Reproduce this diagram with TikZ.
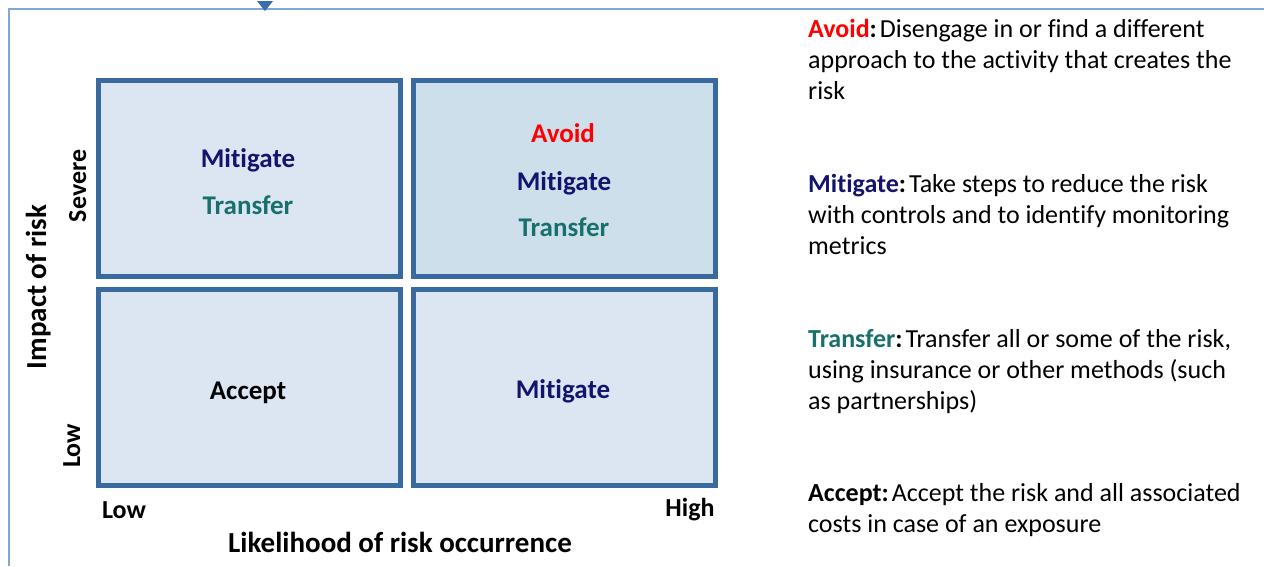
\documentclass[tikz,border=0pt]{standalone}
\usepackage{fontspec}
\setmainfont{Carlito}[Ligatures=NoCommon]

\definecolor{framelin}{HTML}{7FA7D7}
\definecolor{marker}{HTML}{3B6BA8}
\definecolor{cellline}{HTML}{386A9F}
\definecolor{cellfill}{HTML}{DCE6F2}
\definecolor{hotfill}{HTML}{CEDFEC}
\definecolor{mitnavy}{HTML}{14146E}
\definecolor{transteal}{HTML}{17706B}
\definecolor{avoidred}{HTML}{FF0000}

\tikzset{
	cell/.style={draw=cellline, line width=5pt, fill=cellfill, minimum width=302pt, minimum height=196pt, inner sep=0pt},
	cellword/.style={anchor=base, font=\fontsize{27}{30}\selectfont\bfseries},
	axisword/.style={anchor=base, font=\fontsize{26}{30}\selectfont\bfseries},
	axisname/.style={anchor=base, font=\fontsize{29}{32}\selectfont\bfseries},
	note/.style={anchor=base west, align=left, inner sep=0pt, font=\fontsize{26}{31}\selectfont}
}

\begin{document}
\begin{tikzpicture}[x=1pt, y=-1pt]
					\useasboundingbox (0,0) rectangle (1264,566);
					
					% frame and its little marker
					\coordinate (F1) at (9,566);
					\coordinate (F2) at (9,9);
					\coordinate (F3) at (1264,9);
					\draw[framelin, line width=1.5pt] (F1) -- (F2) -- (F3);
					\fill[marker] (257,1) -- (273,1) -- (265,11) -- cycle;
					
					% the four cells
					\node[cell] (tl) at (249.5,178) {};
					\node[cell, fill=hotfill] (tr) at (564,178) {};
					\node[cell] (bl) at (249.5,387) {};
					\node[cell] (br) at (564,387) {};
					
					\node[cellword, text=mitnavy] (tlMit) at (248,167) {Mitigate};
					\node[cellword, text=transteal] (tlTra) at (248,214) {Transfer};
					\node[cellword, text=avoidred] (trAvo) at (563,142) {Avoid};
					\node[cellword, text=mitnavy] (trMit) at (564,190) {Mitigate};
					\node[cellword, text=transteal] (trTra) at (564,236) {Transfer};
					\node[cellword] (blAcc) at (248,399) {Accept};
					\node[cellword, text=mitnavy] (brMit) at (563,398) {Mitigate};
					
					% axes
					\node[axisword] (xLow) at (124,518) {Low};
					\node[axisword] (xHigh) at (690,516) {High};
					\node[axisname] (xName) at (400,552) {Likelihood of risk occurrence};
					\node[axisword, rotate=90] (ySev) at (86,186) {Severe};
					\node[axisword, rotate=90] (yLow) at (80,446) {Low};
					\node[axisname, rotate=90] (yName) at (46,287) {Impact of risk};
					
					% what each response means (placed by the last line)
					\node[note] (avoidNote) at (808,99) {\textbf{\textcolor{avoidred}{Avoid}:}\hspace{3pt}Disengage in or find a different\\approach to the activity that creates the\\risk};
					\node[note] (mitNote) at (808,254) {\textbf{\textcolor{mitnavy}{Mitigate}:}\hspace{3pt}Take steps to reduce the risk\\with controls and to identify monitoring\\metrics};
					\node[note] (traNote) at (808,409) {\textbf{\textcolor{transteal}{Transfer}:}\hspace{3pt}Transfer all or some of the risk,\\using insurance or other methods (such\\as partnerships)};
					\node[note] (accNote) at (808,532) {\textbf{Accept:}\hspace{3pt}Accept the risk and all associated\\costs in case of an exposure};
					
				\end{tikzpicture}
\end{document}
